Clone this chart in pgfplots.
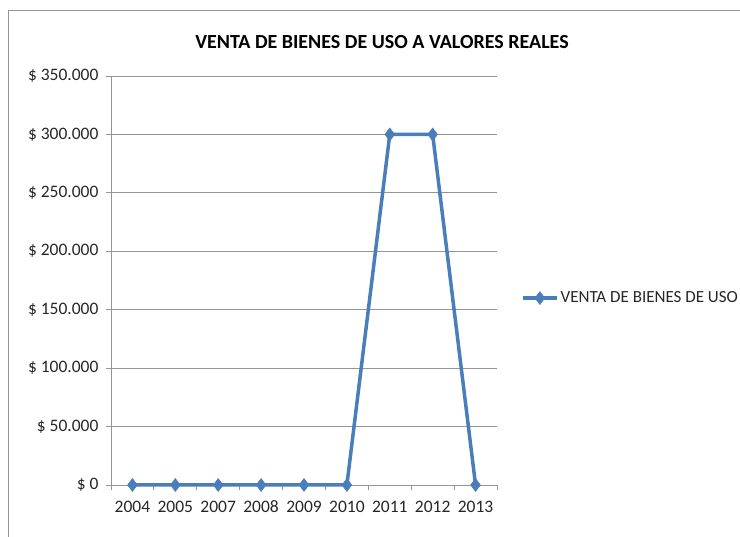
\documentclass[border=0pt]{standalone}
\usepackage{pgfplots}
\pgfplotsset{compat=1.18}
\usepackage{fontspec}
\setmainfont{Carlito}
\definecolor{serie}{HTML}{4A7EBB}
\definecolor{gridc}{HTML}{959595}
\begin{document}
\begin{tikzpicture}[x=1pt,y=1pt]
\useasboundingbox (0,0) rectangle (740,537);
\draw[gridc, line width=1pt] (8,0) -- (8,526) -- (740,526);
\node[font=\bfseries\fontsize{20}{22}\selectfont] at (382,495) {VENTA DE BIENES DE USO A VALORES REALES};
\begin{axis}[
  at={(111pt,52pt)}, anchor=south west,
  scale only axis, width=386pt, height=409pt,
  xmin=-0.5, xmax=8.5, ymin=0, ymax=350000,
  axis x line*=bottom, axis y line*=left,
  axis line style={-, gridc, line width=0.8pt},
  xtick={0,...,8},
  xticklabels={2004,2005,2007,2008,2009,2010,2011,2012,2013},
  minor xtick={-0.5,0.5,...,8.5},
  major x tick style={draw=none},
  minor x tick style={gridc, line width=0.8pt},
  ytick={0,50000,...,350000},
  yticklabels={\$ 0,\$ 50.000,\$ 100.000,\$ 150.000,\$ 200.000,\$ 250.000,\$ 300.000,\$ 350.000},
  y tick style={gridc, line width=0.8pt},
  tick align=outside, major tick length=5pt, minor tick length=5pt,
  ymajorgrids, major grid style={gridc, line width=0.8pt},
  ticklabel style={font=\fontsize{17.5}{19}\selectfont, text=black!85},
  yticklabel style={xshift=-4pt},
  xticklabel style={anchor=north, text height=12pt, text depth=0pt, yshift=-7pt},
  scaled y ticks=false,
  legend style={at={(1.062,0.457)}, anchor=west, draw=none, fill=none,
    font=\fontsize{17}{19}\selectfont, text=black!85, inner sep=0pt,
    /tikz/every even column/.append style={column sep=2pt}},
  legend image code/.code={
    \draw[#1, mark=none] (0pt,0pt) -- (34pt,0pt);
    \draw[#1, only marks] plot coordinates {(17pt,0pt)};},
  legend cell align=left,
  clip=false,
]
\addplot[serie, line width=3.5pt, mark=diamond*, mark size=6.5pt, mark options={fill=serie, line width=0.5pt}]
  coordinates {(0,0) (1,0) (2,0) (3,0) (4,0) (5,0) (6,300000) (7,300000) (8,0)};
\addlegendentry{VENTA DE BIENES DE USO}
\end{axis}
\end{tikzpicture}
\end{document}
